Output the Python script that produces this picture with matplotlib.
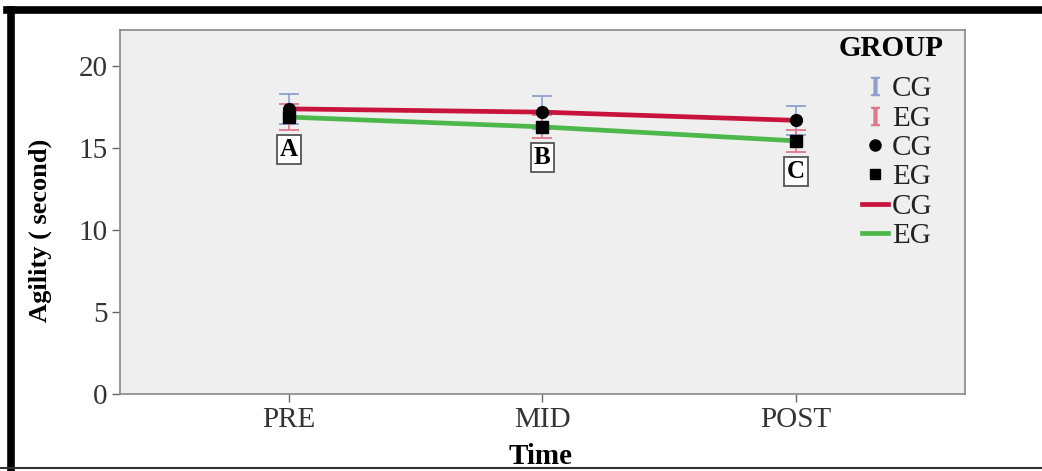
import numpy as np
import matplotlib
matplotlib.use("Agg")
import matplotlib.pyplot as plt
from matplotlib.lines import Line2D

plt.rcParams['font.family'] = ['Liberation Serif', 'DejaVu Serif']
plt.rcParams['mathtext.fontset'] = 'stix'

# data
times = ['PRE', 'MID', 'POST']
cg_mean = [17.4, 17.2, 16.7]
cg_low = [16.5, 16.2, 15.8]
cg_high = [18.3, 18.2, 17.6]
eg_mean = [16.9, 16.3, 15.45]
eg_low = [16.1, 15.6, 14.8]
eg_high = [17.7, 17.0, 16.1]
box_labels = ['A', 'B', 'C']
box_y = [14.9, 14.45, 13.6]

x = np.arange(len(times))

fig = plt.figure(figsize=(10.42, 4.71), dpi=100)
ax = fig.add_axes([0.115, 0.163, 0.811, 0.773])
ax.set_facecolor('#efefef')

# error bars
cg_err = [np.array(cg_mean) - np.array(cg_low), np.array(cg_high) - np.array(cg_mean)]
eg_err = [np.array(eg_mean) - np.array(eg_low), np.array(eg_high) - np.array(eg_mean)]
ax.errorbar(x, cg_mean, yerr=cg_err, fmt='none', ecolor='#8da0cf', elinewidth=1.2,
            capsize=7, capthick=1.3, zorder=2)
ax.errorbar(x, eg_mean, yerr=eg_err, fmt='none', ecolor='#e0788c', elinewidth=1.2,
            capsize=7, capthick=1.3, zorder=2)

# lines
ax.plot(x, cg_mean, color='#c8143c', lw=3.4, zorder=3)
ax.plot(x, eg_mean, color='#4cb84c', lw=3.4, zorder=3)

# markers
ax.plot(x, cg_mean, 'o', color='black', ms=8.5, zorder=4)
ax.plot(x, eg_mean, 's', color='black', ms=8, zorder=4)

for xi, lab, yy in zip(x, box_labels, box_y):
    ax.text(xi, yy, lab, ha='center', va='center', fontsize=18, fontweight='bold',
            bbox=dict(boxstyle='square,pad=0.12', fc='white', ec='#555555', lw=1.3), zorder=5)

ax.set_xlim(-0.667, 2.667)
ax.set_ylim(0, 22.2)
ax.set_xticks(x)
ax.set_xticklabels(times)
ax.set_yticks([0, 5, 10, 15, 20])
ax.tick_params(axis='both', colors='#666666', labelcolor='#333333', labelsize=21,
               length=6, width=1, pad=3)
for s in ax.spines.values():
    s.set_color('#888888')
    s.set_linewidth(1.2)

ax.set_ylabel('Agility ( second)', fontsize=19, fontweight='bold')
ax.yaxis.set_label_coords(-0.08, 0.45)
ax.set_xlabel('Time', fontsize=21, fontweight='bold')
ax.xaxis.set_label_coords(0.498, -0.135)

# legend: title drawn apart so the gap below it matches
ax.text(0.913, 0.95, 'GROUP', transform=ax.transAxes, ha='center', va='center',
        fontsize=21, fontweight='bold')
handles = [
    Line2D([], [], ls='none', marker=r'$\mathrm{I}$', color='#8da0cf', ms=13),
    Line2D([], [], ls='none', marker=r'$\mathrm{I}$', color='#e0788c', ms=13),
    Line2D([], [], ls='none', marker='o', color='black', ms=8),
    Line2D([], [], ls='none', marker='s', color='black', ms=7.5),
    Line2D([], [], color='#c8143c', lw=3.4),
    Line2D([], [], color='#4cb84c', lw=3.4),
]
leg = ax.legend(handles, ['CG', 'EG', 'CG', 'EG', 'CG', 'EG'],
                loc='upper right', frameon=False, fontsize=21, handlelength=0.9,
                handletextpad=0.15, labelspacing=0.1, borderaxespad=0.0,
                borderpad=0.0, bbox_to_anchor=(0.962, 0.874))
for t in leg.get_texts():
    t.set_color('#222222')

# outer frame
fig.add_artist(Line2D([0.007, 1.0], [0.978, 0.978], color='black', lw=5.5,
                      transform=fig.transFigure))
fig.add_artist(Line2D([0.0105, 0.0105], [0.0, 0.978], color='black', lw=5.5,
                      transform=fig.transFigure))
fig.add_artist(Line2D([0.0, 1.0], [0.006, 0.006], color='#333333', lw=1.5,
                      transform=fig.transFigure))

fig.savefig('out.png', dpi=100)
